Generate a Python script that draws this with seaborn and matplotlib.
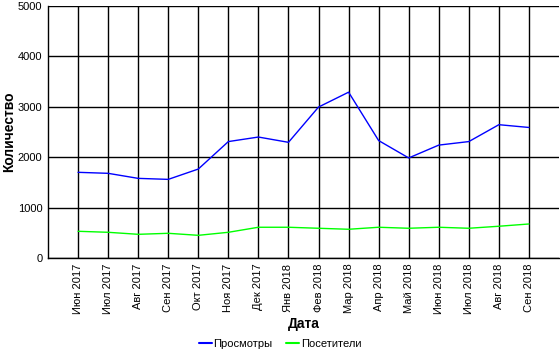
import matplotlib
matplotlib.use("Agg")
import matplotlib.pyplot as plt
import seaborn as sns
import pandas as pd

months = ["Июн 2017", "Июл 2017", "Авг 2017", "Сен 2017", "Окт 2017", "Ноя 2017",
          "Дек 2017", "Янв 2018", "Фев 2018", "Мар 2018", "Апр 2018", "Май 2018",
          "Июн 2018", "Июл 2018", "Авг 2018", "Сен 2018"]
views = [1700, 1680, 1580, 1560, 1765, 2310, 2400, 2295, 2995, 3290, 2330, 1985,
         2240, 2310, 2645, 2590]
visitors = [530, 510, 470, 490, 450, 510, 610, 610, 590, 570, 610, 590, 610, 590,
            630, 675]
series_names = ["Просмотры", "Посетители"]
y_ticks = [0, 1000, 2000, 3000, 4000, 5000]

sns.set_style("white")
plt.rcParams['font.family'] = ['Liberation Sans', 'DejaVu Sans']
plt.rcParams['text.color'] = 'black'
plt.rcParams['axes.labelcolor'] = 'black'
plt.rcParams['xtick.color'] = 'black'
plt.rcParams['ytick.color'] = 'black'

df = pd.DataFrame({
    "idx": list(range(len(months))) * 2,
    "value": views + visitors,
    "series": [series_names[0]] * len(months) + [series_names[1]] * len(months),
})

fig = plt.figure(figsize=(5.6, 3.5), dpi=100)
ax = fig.add_axes([48 / 560, 1 - 258 / 350, (559 - 48) / 560, (258 - 6) / 350])

sns.lineplot(data=df, x="idx", y="value", hue="series",
             palette={series_names[0]: "#0000ff", series_names[1]: "#00ff00"},
             linewidth=1, ax=ax, legend=True)

ax.set_xlim(-1, len(months))
ax.set_ylim(0, 5000)
ax.set_xticks(range(len(months)))
ax.set_xticklabels(months, rotation=90, fontsize=8)
ax.set_yticks(y_ticks)
ax.set_yticklabels([str(v) for v in y_ticks], fontsize=8)
ax.tick_params(length=0, pad=4, colors="black")
ax.grid(True, color="black", linewidth=1)
ax.set_axisbelow(True)
for s in ["left", "bottom"]:
    ax.spines[s].set_color("black")
    ax.spines[s].set_linewidth(1)
ax.spines["top"].set_visible(False)
ax.spines["right"].set_visible(False)

ax.set_xlabel("Дата", fontsize=10, fontweight="bold", color="black")
ax.xaxis.set_label_coords(0.5, -0.235)
ax.set_ylabel("Количество", fontsize=10, fontweight="bold", color="black")
ax.yaxis.set_label_coords(-0.063, 0.5)

leg = ax.legend(loc="center", bbox_to_anchor=(0.454, -0.34), ncol=2, frameon=False,
                fontsize=8, handlelength=1.2, handletextpad=0.15, columnspacing=1.2)
for line in leg.get_lines():
    line.set_linewidth(1.5)
for t in leg.get_texts():
    t.set_color("black")

fig.savefig("out.png", dpi=100)
